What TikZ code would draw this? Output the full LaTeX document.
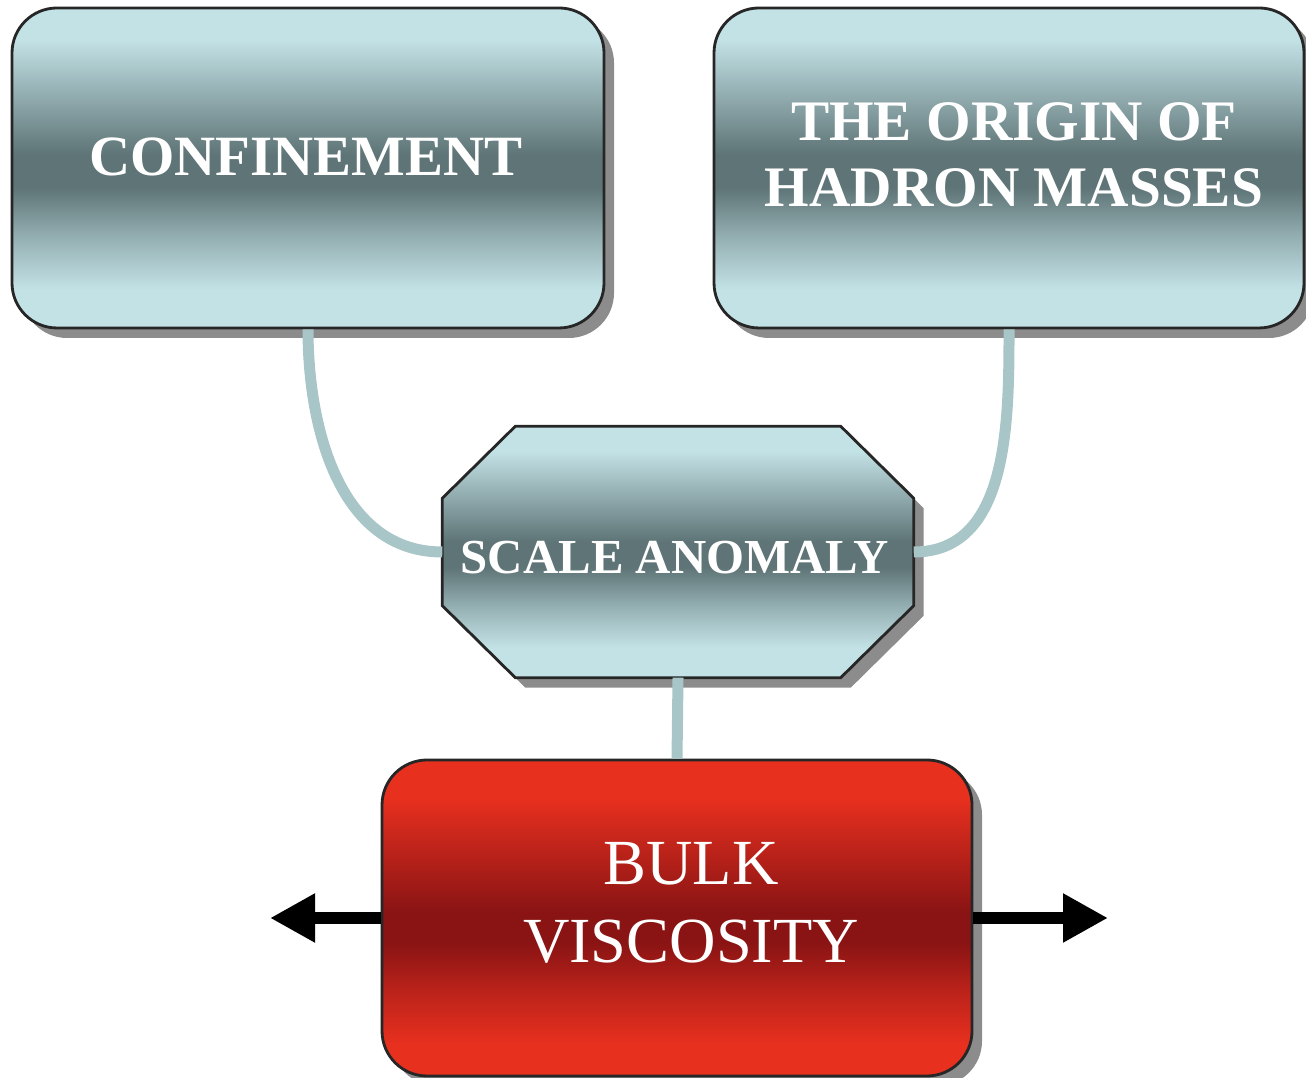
\documentclass[tikz,border=0pt]{standalone}
\usepackage{fontspec}
\setmainfont{Liberation Serif}
\usetikzlibrary{positioning,calc,arrows.meta,shadows}
\definecolor{boxlight}{HTML}{C3E2E6}
\definecolor{boxdark}{HTML}{5E7476}
\colorlet{boxmid}{boxlight!55!boxdark}
\definecolor{redlight}{HTML}{E8301F}
\definecolor{reddark}{HTML}{8A1414}
\colorlet{redmid}{redlight!55!reddark}
\definecolor{linkcol}{HTML}{A8C5C8}
\pgfdeclareverticalshading{blueshade}{100bp}{color(0bp)=(boxlight); color(31bp)=(boxlight); color(39bp)=(boxmid);
	color(47bp)=(boxdark); color(52bp)=(boxdark); color(62bp)=(boxmid); color(70bp)=(boxlight); color(100bp)=(boxlight)}
\pgfdeclareverticalshading{redshade}{100bp}{color(0bp)=(redlight); color(30bp)=(redlight); color(38bp)=(redmid);
	color(46bp)=(reddark); color(51bp)=(reddark); color(61bp)=(redmid); color(69bp)=(redlight); color(100bp)=(redlight)}

\begin{document}
\begin{tikzpicture}[
	box/.style={draw=black!85, line width=0.8pt, rounded corners=0.45cm, minimum width=5.92cm, minimum height=3.2cm,
		shade, shading=blueshade,
		drop shadow={shadow xshift=0.1cm, shadow yshift=-0.1cm, fill=black!45, opacity=1}},
	redbox/.style={box, shading=redshade, minimum height=3.16cm},
	octfill/.style={draw=black!85, line width=0.8pt, shade, shading=blueshade,
		drop shadow={shadow xshift=0.1cm, shadow yshift=-0.1cm, fill=black!45, opacity=1}},
	lbl/.style={text=white, align=center, inner sep=0pt},
	link/.style={draw=linkcol, line width=0.11cm},
	bigarrow/.style={line width=0.12cm, -{Triangle[length=0.45cm, width=0.46cm]}}
	]
	\useasboundingbox (0,0) rectangle (13.06,10.78);

	\node[box] (conf) at (3.08,9.10) {};
	\node[box, minimum width=5.9cm] (orig) at (10.09,9.10) {};
	\node[minimum width=4.7cm, minimum height=2.5cm, inner sep=0pt] (anom) at (6.78,5.26) {};
	\node[redbox, minimum width=5.9cm] (bulk) at (6.77,1.60) {};

	% octagon round the scale anomaly node
	\path[octfill] ($(anom.north west)+(0.73,0)$) -- ($(anom.north east)+(-0.73,0)$)
		-- ($(anom.north east)+(0,-0.72)$) -- ($(anom.south east)+(0,0.72)$)
		-- ($(anom.south east)+(-0.73,0)$) -- ($(anom.south west)+(0.73,0)$)
		-- ($(anom.south west)+(0,0.72)$) -- ($(anom.north west)+(0,-0.72)$) -- cycle;

	\node[lbl, font=\bfseries\fontsize{16.2}{19}\selectfont] (conftxt) at ($(conf.center)+(-0.02,0.11)$) {CONFINEMENT};
	\node[lbl, font=\bfseries\fontsize{16.3}{18.8}\selectfont] (origtxt) at ($(orig.center)+(0.05,0.13)$) {THE ORIGIN OF\\HADRON MASSES};
	\node[lbl, font=\bfseries\fontsize{13.9}{16}\selectfont] (anomtxt) at ($(anom.center)+(-0.03,-0.06)$) {SCALE ANOMALY};
	\node[lbl, font=\fontsize{18.3}{22.2}\selectfont] (bulktxt) at ($(bulk.center)+(0.14,0.15)$) {BULK\\VISCOSITY};

	\draw[link] (conf.south) to[out=-90, in=180] (anom.west);
	\draw[link] (orig.south) to[out=-90, in=0] (anom.east);
	\draw[link] (anom.south) -- (bulk.north);

	\coordinate (lefttip) at (2.70,1.60);
	\coordinate (righttip) at (11.08,1.60);
	\draw[bigarrow] (bulk.west) -- (lefttip);
	\draw[bigarrow] (bulk.east) -- (righttip);
\end{tikzpicture}
\end{document}
